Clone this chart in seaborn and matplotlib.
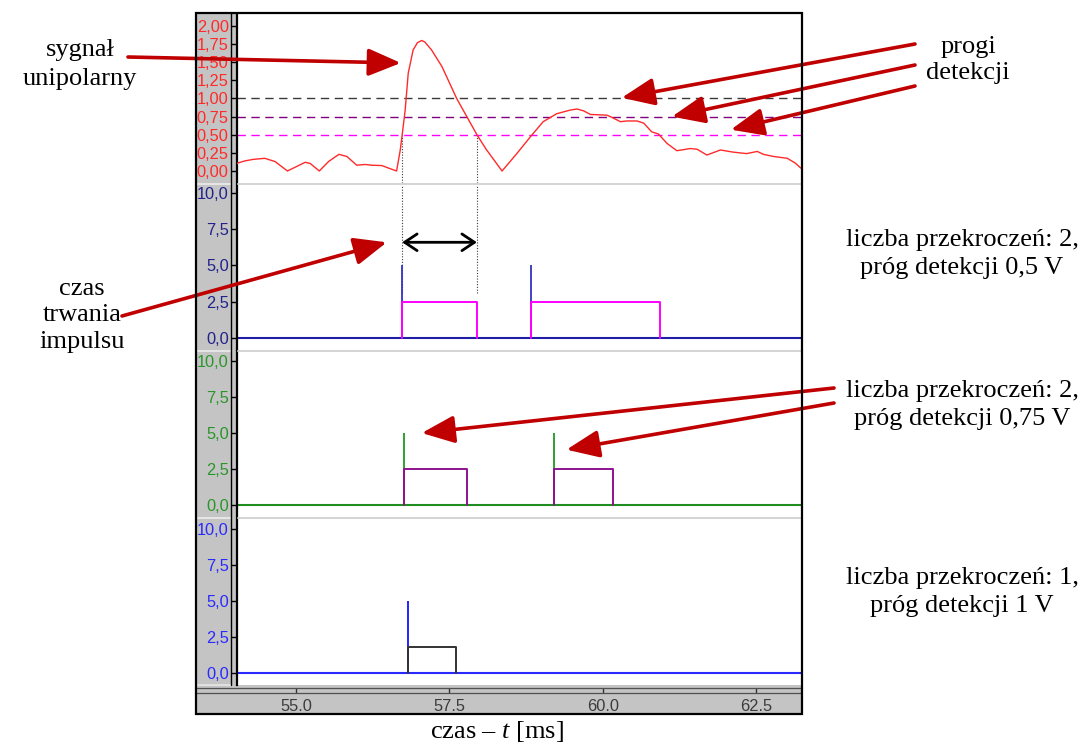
import numpy as np
import pandas as pd
import matplotlib
matplotlib.use("Agg")
import matplotlib.pyplot as plt
from matplotlib.patches import Rectangle
from matplotlib.lines import Line2D
from matplotlib.ticker import FuncFormatter
import seaborn as sns

# ---------------------------------------------------------------- data
# unipolar signal: time [ms] and amplitude [V]
time_ms = [54.04, 54.05, 54.17, 54.30, 54.49, 54.66, 54.86, 55.15, 55.23, 55.38,
           55.53, 55.70, 55.83, 55.99, 56.13, 56.23, 56.40, 56.51, 56.64, 56.70,
           56.73, 56.78, 56.83, 56.91, 56.98, 57.05, 57.10, 57.21, 57.38, 57.62,
           57.95, 58.10, 58.36, 58.60, 58.82, 59.03, 59.25, 59.47, 59.58, 59.69,
           59.80, 60.07, 60.15, 60.29, 60.39, 60.56, 60.67, 60.80, 60.91, 61.05,
           61.21, 61.43, 61.54, 61.70, 61.92, 62.13, 62.35, 62.52, 62.62, 62.79,
           63.01, 63.14, 63.23]
signal_v = [0.10, 0.11, 0.14, 0.16, 0.175, 0.13, 0.00, 0.12, 0.105, 0.00,
            0.13, 0.23, 0.20, 0.08, 0.09, 0.08, 0.075, 0.04, 0.00, 0.29,
            0.49, 0.84, 1.35, 1.67, 1.77, 1.80, 1.78, 1.67, 1.44, 1.00,
            0.50, 0.30, 0.00, 0.24, 0.47, 0.68, 0.79, 0.84, 0.855, 0.83,
            0.78, 0.77, 0.74, 0.68, 0.69, 0.69, 0.66, 0.54, 0.51, 0.38,
            0.28, 0.31, 0.30, 0.22, 0.29, 0.26, 0.24, 0.27, 0.23, 0.20,
            0.175, 0.11, 0.04]

# detection thresholds [V]
thresholds = [1.0, 0.75, 0.5]

# detected pulses (start / end in ms) for each threshold
pulse_start_05 = [56.73, 58.83]
pulse_end_05 = [57.95, 60.94]
pulse_start_075 = [56.76, 59.21]
pulse_end_075 = [57.79, 60.17]
pulse_start_1 = [56.82]
pulse_end_1 = [57.61]

spike_height = 5.0
pulse_height_05 = 2.5
pulse_height_075 = 2.5
pulse_height_1 = 1.75

# measured pulse duration marker (first pulse, threshold 0.5 V)
duration_level = 6.6

x_ticks = [55.0, 57.5, 60.0, 62.5]
signal_ticks = [0.0, 0.25, 0.5, 0.75, 1.0, 1.25, 1.5, 1.75, 2.0]
pulse_ticks = [0.0, 2.5, 5.0, 7.5, 10.0]

# ---------------------------------------------------------------- style
sns.set_style("white")
plt.rcParams["font.family"] = ["Liberation Sans", "DejaVu Sans"]
plt.rcParams["mathtext.fontset"] = "custom"
plt.rcParams["mathtext.rm"] = "Liberation Serif"
plt.rcParams["mathtext.it"] = "Liberation Serif:italic"

W, H = 1092, 745
fig = plt.figure(figsize=(W / 100, H / 100), dpi=100)
fig.patch.set_facecolor("white")


def frac(x0, y0, x1, y1):
    """pixel box (top-left origin) -> figure fraction rect"""
    return [x0 / W, 1 - y1 / H, (x1 - x0) / W, (y1 - y0) / H]


def fpx(x, y):
    """pixel point (top-left origin) -> figure pixel coords"""
    return (x, H - y)


XL = (54.038, 63.234)
FRAME_GRAY = "#c4c4c4"
TICK_FS = 11.8

# instrument frame background
fig.patches.append(Rectangle((195, H - 714), 607, 702, transform=None,
                             facecolor=FRAME_GRAY, edgecolor="none", zorder=-10))

panels = [
    dict(box=(237, 14, 801, 183), ylim=(-0.1655, 2.1655), ticks=signal_ticks,
         fmt="{:.2f}", color="#ff2a2a"),
    dict(box=(237, 184.5, 801, 350), ylim=(-0.828, 10.586), ticks=pulse_ticks,
         fmt="{:.1f}", color="#22228c"),
    dict(box=(237, 351.5, 801, 517), ylim=(-0.80, 10.63), ticks=pulse_ticks,
         fmt="{:.1f}", color="#2a962a"),
    dict(box=(237, 518.5, 801, 685), ylim=(-0.853, 10.70), ticks=pulse_ticks,
         fmt="{:.1f}", color="#2a2aff"),
]

axes = []
for p in panels:
    ax = fig.add_axes(frac(*p["box"]))
    ax.set_facecolor("white")
    ax.set_xlim(*XL)
    ax.set_ylim(*p["ylim"])
    ax.set_xticks([])
    ax.set_yticks(p["ticks"])
    fmt = p["fmt"]
    ax.yaxis.set_major_formatter(FuncFormatter(lambda v, _, f=fmt: f.format(v).replace(".", ",")))
    ax.tick_params(axis="y", direction="out", length=4.4, width=1.0, color="black",
                   pad=1.6, labelsize=TICK_FS, labelcolor=p["color"], left=True)
    for s in ("top", "right", "bottom"):
        ax.spines[s].set_visible(False)
    ax.spines["left"].set_color("black")
    ax.spines["left"].set_linewidth(1.6)
    axes.append(ax)

ax1, ax2, ax3, ax4 = axes

# ---------------------------------------------------------------- signal panel
thr_colors = ["#3a3a3a", "#800080", "#ff00ff"]
for thr, c in zip(thresholds, thr_colors):
    ax1.axhline(thr, color=c, lw=1.0, ls=(0, (6, 4)), zorder=1)

sig = pd.DataFrame({"t": time_ms, "v": signal_v})
sns.lineplot(data=sig, x="t", y="v", ax=ax1, color="#ff2a2a", lw=1.0,
             estimator=None, sort=False, zorder=3)

# dotted guides marking the first pulse width at 0.5 V
first = [pulse_start_05[0], pulse_end_05[0]]
ax1.vlines(first, ax1.get_ylim()[0], thresholds[2], colors="#3a3a3a",
           linestyles=(0, (1, 1.5)), lw=0.8, zorder=2)
ax2.vlines(first, 3.1, ax2.get_ylim()[1], colors="#3a3a3a",
           linestyles=(0, (1, 1.5)), lw=0.8, zorder=2)


# ---------------------------------------------------------------- pulse panels
def pulse_frame(starts, ends, height):
    rows = []
    for i, (s, e) in enumerate(zip(starts, ends)):
        for t, v in ((s, 0.0), (s, height), (e, height), (e, 0.0)):
            rows.append({"t": t, "v": v, "pulse": i})
    return pd.DataFrame(rows)


pulse_sets = [
    (ax2, pulse_start_05, pulse_end_05, pulse_height_05, "#1e1ea6", "#3434c0", "#ff00ff"),
    (ax3, pulse_start_075, pulse_end_075, pulse_height_075, "#1e8c1e", "#1e9a1e", "#8e128e"),
    (ax4, pulse_start_1, pulse_end_1, pulse_height_1, "#2a2aff", "#1010ff", "#333333"),
]
for ax, st, en, h, base_c, spike_c, rect_c in pulse_sets:
    ax.axhline(0, color=base_c, lw=1.5, zorder=1)
    ax.vlines(st, 0, spike_height, colors=spike_c, lw=1.3, zorder=2)
    sns.lineplot(data=pulse_frame(st, en, h), x="t", y="v", units="pulse",
                 estimator=None, sort=False, ax=ax, color=rect_c, lw=1.4, zorder=3)

for ax in axes:
    ax.set_xlabel("")
    ax.set_ylabel("")

# double arrow showing pulse duration
ax2.annotate("", xy=(pulse_end_05[0], duration_level), xytext=(pulse_start_05[0], duration_level),
             arrowprops=dict(arrowstyle="<->,head_length=0.45,head_width=0.3",
                             color="black", lw=2.0, shrinkA=0, shrinkB=0,
                             mutation_scale=20), zorder=5)

# ---------------------------------------------------------------- time ruler
axr = fig.add_axes(frac(237, 688, 801, 714))
axr.set_facecolor("none")
axr.set_xlim(*XL)
axr.set_ylim(0, 1)
axr.set_yticks([])
axr.set_xticks(x_ticks)
axr.xaxis.set_major_formatter(FuncFormatter(lambda v, _: f"{v:.1f}"))
axr.tick_params(axis="x", direction="in", length=3.6, width=1.0, color="#333333",
                top=True, bottom=False, labeltop=False, labelbottom=True,
                pad=-11, labelsize=TICK_FS, labelcolor="#3c3c3c")
for s in axr.spines.values():
    s.set_visible(False)


# ---------------------------------------------------------------- frame lines
def hline(y, x0, x1, color, lw, z=-5):
    fig.add_artist(Line2D([x0, x1], [H - y, H - y], transform=None,
                          color=color, lw=lw, zorder=z))


def vline(x, y0, y1, color, lw, z=-5):
    fig.add_artist(Line2D([x, x], [H - y0, H - y1], transform=None,
                          color=color, lw=lw, zorder=z))


for y in (183.7, 350.7, 517.7):
    hline(y, 197, 230.5, "#e6e6e6", 1.4)
    hline(y, 237.5, 801, "#d6d6d6", 1.4, z=1)
hline(684.5, 197, 230.5, "#e6e6e6", 1.2)
hline(688.2, 195, 801, "#505050", 0.9, z=1)
hline(693.2, 195, 801, "#505050", 0.9, z=1)
vline(231.0, 13, 685, "black", 1.0)
fig.patches.append(Rectangle((195.5, H - 714), 606, 701.5, transform=None,
                             facecolor="none", edgecolor="black", lw=1.6, zorder=20))

# ---------------------------------------------------------------- annotations
SERIF = "Liberation Serif"
FS = 19
ARROW_RED = "#c00000"


def label(lines, x, ys):
    for s, y in zip(lines, ys):
        fig.text(x / W, 1 - y / H, s, ha="center", va="center",
                 family=SERIF, fontsize=FS, color="black")


label(["sygnał", "unipolarny"], 80, [50, 79])
label(["progi", "detekcji"], 968, [47, 73])
label(["czas", "trwania", "impulsu"], 82, [289, 315, 342])
label(["liczba przekroczeń: 2,", "próg detekcji 0,5 V"], 962, [240, 268])
label(["liczba przekroczeń: 2,", "próg detekcji 0,75 V"], 962, [391, 419])
label(["liczba przekroczeń: 1,", "próg detekcji 1 V"], 962, [578, 606])
fig.text(497 / W, 1 - 731 / H, "czas – $t$ [ms]", ha="center", va="center",
         family=SERIF, fontsize=FS, color="black")


def red_arrow(ax, tip, tail_px):
    ax.annotate("", xy=tip, xycoords="data", xytext=fpx(*tail_px),
                textcoords="figure pixels", annotation_clip=False,
                arrowprops=dict(arrowstyle="-|>,head_length=1.0,head_width=0.42",
                                color=ARROW_RED, lw=2.6, shrinkA=0, shrinkB=0,
                                mutation_scale=20), zorder=6)


red_arrow(ax1, (56.71, 1.49), (128, 57))
red_arrow(ax1, (60.31, 1.01), (915, 44))
red_arrow(ax1, (61.13, 0.75), (915, 65))
red_arrow(ax1, (62.09, 0.57), (915, 86))
red_arrow(ax2, (56.48, 6.6), (122, 316))
red_arrow(ax3, (57.05, 5.0), (834, 388))
red_arrow(ax3, (59.41, 3.85), (834, 403))

fig.savefig("out.png", dpi=100)
